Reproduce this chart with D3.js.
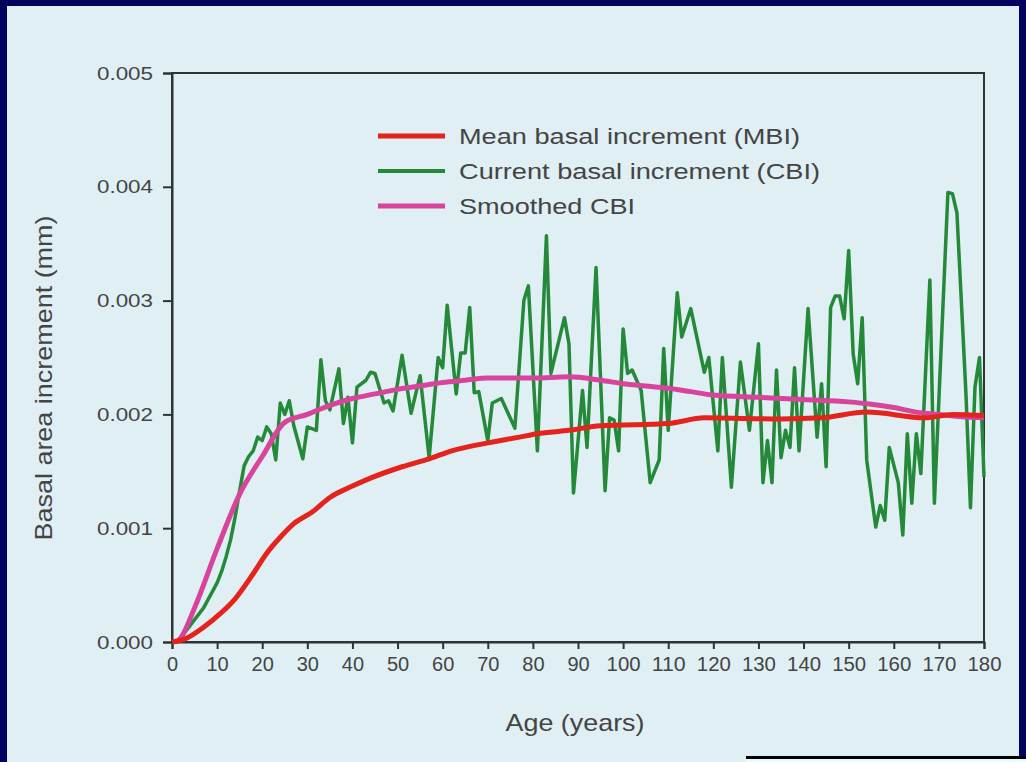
<!DOCTYPE html>
<html>
<head>
<meta charset="utf-8">
<script src="https://cdn.jsdelivr.net/npm/d3@7"></script>
<style>
  body { margin: 0; background: #03035f; }
  svg { display: block; }
  text { font-family: "Liberation Sans", Arial, sans-serif; }
</style>
</head>
<body>
<script>
// current basal increment (CBI)
const cbiAge = [1, 2, 7, 10, 11, 12, 13, 14, 15, 16, 17, 18, 19, 20, 21, 22, 23, 24, 25, 26, 27, 29, 30, 32, 33, 34, 35, 37, 38, 39, 40, 41, 43, 44, 45, 47, 48, 49, 51, 53, 55, 57, 59, 60, 61, 63, 64, 65, 66, 67, 68, 70, 71, 73, 76, 78, 79, 81, 83, 84, 87, 88, 89, 91, 92, 94, 96, 97, 98, 99, 100, 101, 102, 104, 106, 108, 109, 110, 112, 113, 115, 118, 119, 121, 122, 124, 126, 128, 130, 131, 132, 133, 134, 135, 136, 137, 138, 139, 141, 143, 144, 145, 146, 147, 148, 149, 150, 151, 152, 153, 154, 156, 157, 158, 159, 161, 162, 163, 164, 165, 166, 168, 169, 172, 173, 174, 176, 177, 178, 179, 180];
const cbiVal = [0, 0.00004, 0.0003, 0.00052, 0.00062, 0.00075, 0.0009, 0.0011, 0.00133, 0.00155, 0.00163, 0.00168, 0.0018, 0.00177, 0.00189, 0.00183, 0.0016, 0.0021, 0.002, 0.00212, 0.0019, 0.00161, 0.00189, 0.00186, 0.00248, 0.00212, 0.00204, 0.0024, 0.00192, 0.00215, 0.00175, 0.00224, 0.0023, 0.00237, 0.00236, 0.0021, 0.00212, 0.00203, 0.00252, 0.00201, 0.00234, 0.00162, 0.0025, 0.00241, 0.00296, 0.00218, 0.00254, 0.00254, 0.00294, 0.00219, 0.0022, 0.00177, 0.0021, 0.00214, 0.00188, 0.003, 0.00313, 0.00168, 0.00357, 0.00236, 0.00285, 0.00262, 0.00131, 0.00221, 0.00171, 0.00329, 0.00133, 0.00197, 0.00195, 0.00168, 0.00275, 0.00236, 0.00239, 0.00221, 0.0014, 0.0016, 0.00258, 0.00186, 0.00307, 0.00268, 0.00293, 0.00237, 0.0025, 0.00168, 0.0025, 0.00136, 0.00246, 0.00186, 0.00262, 0.0014, 0.00177, 0.0014, 0.00239, 0.00162, 0.00186, 0.00171, 0.00241, 0.00168, 0.00293, 0.0018, 0.00227, 0.00154, 0.00294, 0.00304, 0.00304, 0.00284, 0.00344, 0.00253, 0.00227, 0.00285, 0.0016, 0.00101, 0.0012, 0.00107, 0.00171, 0.0014, 0.00094, 0.00183, 0.00122, 0.00183, 0.00148, 0.00318, 0.00122, 0.00395, 0.00394, 0.00377, 0.00218, 0.00118, 0.00224, 0.0025, 0.00145];

// mean basal increment (MBI)
const mbiAge = [0, 3, 7, 11, 14, 18, 21, 24, 27, 31, 35, 40, 44, 51, 57, 62, 70, 77, 81, 88, 95, 110, 118, 135, 144, 154, 167, 173, 180];
const mbiVal = [0, 0.00003, 0.00013, 0.00026, 0.00038, 0.0006, 0.00078, 0.00092, 0.00104, 0.00114, 0.00127, 0.00137, 0.00144, 0.00154, 0.00161, 0.00168, 0.00175, 0.0018, 0.00183, 0.00186, 0.0019, 0.00192, 0.00197, 0.00196, 0.00197, 0.00202, 0.00197, 0.002, 0.00199];

// smoothed CBI
const smAge = [1, 2, 5, 10, 15, 20, 25, 30, 35, 40, 45, 50, 55, 60, 65, 70, 75, 80, 88, 95, 100, 105, 110, 115, 120, 130, 140, 150, 155, 160, 165, 170, 175, 180];
const smVal = [0, 0.00004, 0.0003, 0.00082, 0.0013, 0.00163, 0.00193, 0.002, 0.00208, 0.00214, 0.00218, 0.00222, 0.00225, 0.00228, 0.0023, 0.00232, 0.00232, 0.00232, 0.00233, 0.0023, 0.00227, 0.00225, 0.00223, 0.0022, 0.00217, 0.00215, 0.00213, 0.00211, 0.00209, 0.00206, 0.00202, 0.002, 0.00198, 0.00197];

const yTicks = [0, 0.001, 0.002, 0.003, 0.004, 0.005];
const xTicks = d3.range(0, 181, 10);

const legendLabels = ["Mean basal increment (MBI)", "Current basal increment (CBI)", "Smoothed CBI"];
const colors = {mbi: "#e5231d", cbi: "#25893a", sm: "#d8449c"};

const W = 1026, H = 762;
const margin = {top: 73, right: 42, bottom: 120, left: 172};

const svg = d3.select("body").append("svg")
    .attr("width", W)
    .attr("height", H);

// light panel inside navy frame
svg.append("rect")
    .attr("x", 7).attr("y", 6)
    .attr("width", 1012).attr("height", H - 6)
    .attr("fill", "#dfeff3");

// odd strip bottom right
svg.append("rect").attr("x", 746).attr("y", 756).attr("width", W - 746).attr("height", 3).attr("fill", "#000");
svg.append("rect").attr("x", 746).attr("y", 759).attr("width", W - 746).attr("height", 3).attr("fill", "#e6fbfb");

let x = d3.scaleLinear()
    .domain([0, 180])
    .range([margin.left, W - margin.right]);

let y = d3.scaleLinear()
    .domain([0, 0.005])
    .range([H - margin.bottom - 0, margin.top]);

// frame
svg.append("rect")
    .attr("x", x(0)).attr("y", y(0.005))
    .attr("width", x(180) - x(0)).attr("height", y(0) - y(0.005))
    .attr("fill", "none")
    .attr("stroke", "#2e3436")
    .attr("stroke-width", 2);

let yAxis = svg.append("g")
    .attr("transform", "translate(" + x(0) + ",0)")
    .call(d3.axisLeft(y).tickValues(yTicks).tickFormat(d3.format(".3f")).tickSize(9).tickPadding(10));

let xAxis = svg.append("g")
    .attr("transform", "translate(0," + y(0) + ")")
    .call(d3.axisBottom(x).tickValues(xTicks).tickSize(7).tickPadding(8));

[xAxis, yAxis].forEach(g => {
    g.select(".domain").attr("stroke", "#2e3436").attr("stroke-width", 2);
    g.selectAll(".tick line").attr("stroke", "#2e3436").attr("stroke-width", 2);
    g.selectAll(".tick text").attr("fill", "#444").style("font-size", "20px");
});
yAxis.selectAll(".tick text").style("font-size", "19px").attr("textLength", 56).attr("lengthAdjust", "spacingAndGlyphs");
xAxis.selectAll(".tick text").filter(d => d >= 100).attr("textLength", 34).attr("lengthAdjust", "spacingAndGlyphs");

// axis titles
svg.append("text")
    .attr("x", 575).attr("y", 731)
    .attr("text-anchor", "middle")
    .attr("fill", "#444")
    .style("font-size", "24px")
    .attr("textLength", 139)
    .attr("lengthAdjust", "spacingAndGlyphs")
    .text("Age (years)");

svg.append("text")
    .attr("transform", "translate(52,378) rotate(-90)")
    .attr("text-anchor", "middle")
    .attr("fill", "#444")
    .style("font-size", "24px")
    .attr("textLength", 325)
    .attr("lengthAdjust", "spacingAndGlyphs")
    .text("Basal area increment (mm)");

let line = d3.line()
    .x(d => x(d[0]))
    .y(d => y(d[1]));

let cbiData = cbiAge.map((a, i) => [a, cbiVal[i]]);
let mbiData = mbiAge.map((a, i) => [a, mbiVal[i]]);
let smData = smAge.map((a, i) => [a, smVal[i]]);

svg.append("path")
    .datum(cbiData)
    .attr("d", line)
    .attr("fill", "none")
    .attr("stroke", colors.cbi)
    .attr("stroke-width", 3.5)
    .attr("stroke-linejoin", "round");

svg.append("path")
    .datum(smData)
    .attr("d", line.curve(d3.curveMonotoneX))
    .attr("fill", "none")
    .attr("stroke", colors.sm)
    .attr("stroke-width", 5);

svg.append("path")
    .datum(mbiData)
    .attr("d", line.curve(d3.curveMonotoneX))
    .attr("fill", "none")
    .attr("stroke", colors.mbi)
    .attr("stroke-width", 5);

// legend
let legend = svg.append("g").attr("class", "legend");
let legendColors = [colors.mbi, colors.cbi, colors.sm];
let legendY = [136, 171, 206];
let legendLen = [341, 361, 176];

legend.selectAll("line")
    .data(legendLabels)
    .enter()
    .append("line")
    .attr("x1", 378).attr("x2", 445)
    .attr("y1", (d, i) => legendY[i])
    .attr("y2", (d, i) => legendY[i])
    .attr("stroke", (d, i) => legendColors[i])
    .attr("stroke-width", (d, i) => i == 1 ? 4 : 5);

legend.selectAll("text")
    .data(legendLabels)
    .enter()
    .append("text")
    .attr("x", 459)
    .attr("y", (d, i) => legendY[i] + 8)
    .attr("fill", "#444")
    .style("font-size", "22px")
    .attr("textLength", (d, i) => legendLen[i])
    .attr("lengthAdjust", "spacingAndGlyphs")
    .text(d => d);
</script>
</body>
</html>
